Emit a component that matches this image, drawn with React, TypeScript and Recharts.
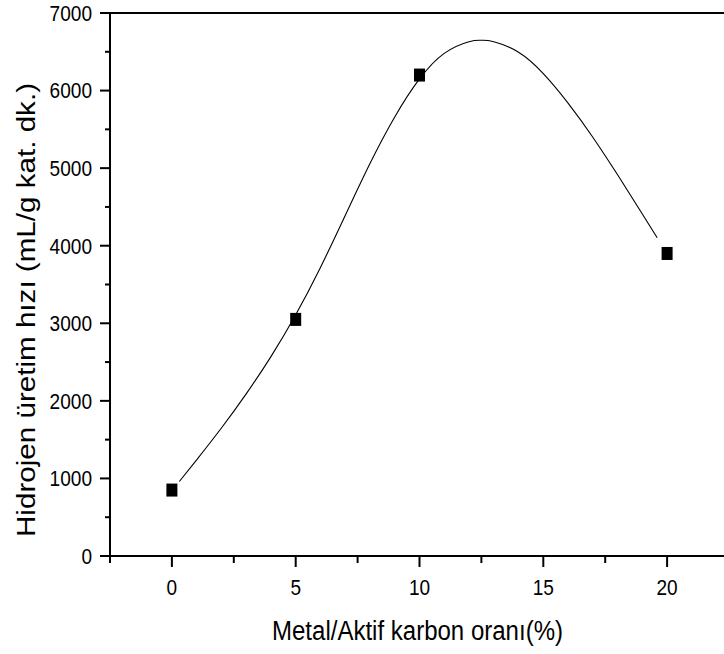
import { ComposedChart, Line, Scatter, XAxis, YAxis } from 'recharts'

// measured points (square markers)
const pointX = [0, 5, 10, 20]
const pointY = [850, 3050, 6200, 3900]

// smooth fitted curve
const curveX = [0.3, 1, 2, 3, 4, 5, 6, 7, 8, 9, 10, 11, 12, 12.5, 13, 14, 15, 16, 17, 18, 19, 19.6]
const curveY = [960, 1240, 1650, 2090, 2570, 3110, 3720, 4390, 5060, 5660, 6150, 6480, 6630, 6648, 6630, 6494, 6219, 5839, 5399, 4914, 4409, 4103]

const xTicks = [-2.5, 0, 2.5, 5, 7.5, 10, 12.5, 15, 17.5, 20, 22.5]
const xMajor = [0, 5, 10, 15, 20]
const topMajor = [-2.5, 2.5, 7.5, 12.5, 17.5, 22.5]
const yTicks = [0, 500, 1000, 1500, 2000, 2500, 3000, 3500, 4000, 4500, 5000, 5500, 6000, 6500, 7000]
const yMajor = [0, 1000, 2000, 3000, 4000, 5000, 6000, 7000]
const rightTicks = [0, 0.5, 1, 1.5, 2, 2.5, 3, 3.5, 4, 4.5, 5]

const xTitle = 'Metal/Aktif karbon oranı(%)'
const yTitle = 'Hidrojen üretim hızı (mL/g kat. dk.)'

const points = pointX.map((x, i) => ({ x, y: pointY[i] }))
const curve = curveX.map((x, i) => ({ x, y: curveY[i] }))

const FONT = '"Liberation Sans", Arial, sans-serif'

const tickText = (s: string) => ({
  fontFamily: FONT,
  fontSize: 22,
  fill: '#000',
  textLength: s.length * 10.6,
  lengthAdjust: 'spacingAndGlyphs' as const,
})

const BottomTick = ({ x, y, payload }: any) => {
  const major = xMajor.includes(payload.value)
  const s = String(payload.value)
  return (
    <g>
      <line x1={x} x2={x} y1={y} y2={y + (major ? 11 : 7)} stroke="#000" strokeWidth={2} />
      {major && (
        <text x={x} y={y + 39} textAnchor="middle" {...tickText(s)}>
          {s}
        </text>
      )}
    </g>
  )
}

const TopTick = ({ x, y, payload }: any) => {
  const major = topMajor.includes(payload.value)
  return <line x1={x} x2={x} y1={y} y2={y + (major ? 12 : 7)} stroke="#000" strokeWidth={2} />
}

const LeftTick = ({ x, y, payload }: any) => {
  const major = yMajor.includes(payload.value)
  const s = String(payload.value)
  return (
    <g>
      <line x1={x} x2={x - (major ? 10 : 5)} y1={y} y2={y} stroke="#000" strokeWidth={2} />
      {major && (
        <text x={x - 18} y={y} dy="0.36em" textAnchor="end" {...tickText(s)}>
          {s}
        </text>
      )}
    </g>
  )
}

const RightTick = ({ x, y, payload }: any) => {
  const major = Number.isInteger(payload.value)
  return <line x1={x} x2={x - (major ? 12 : 7)} y1={y} y2={y} stroke="#000" strokeWidth={2} />
}

const Marker = ({ cx, cy }: any) => <rect x={cx - 5.5} y={cy - 6.5} width={11} height={13} fill="#000" />

const axisLine = { stroke: '#000', strokeWidth: 2 }

export default function App() {
  return (
    <div style={{ position: 'absolute', left: 0, top: 0, width: 724, height: 654, overflow: 'hidden', background: '#fff' }}>
      <ComposedChart width={740} height={654} margin={{ top: 0, right: 0, bottom: 0, left: 0 }}>
        <XAxis
          dataKey="x"
          type="number"
          domain={[-2.5, 22.5]}
          ticks={xTicks}
          interval={0}
          height={98}
          tickSize={0}
          tickMargin={0}
          tickLine={false}
          axisLine={axisLine}
          tick={BottomTick}
        />
        <XAxis
          xAxisId="top"
          orientation="top"
          type="number"
          domain={[-2.5, 22.5]}
          ticks={xTicks}
          interval={0}
          height={13}
          tickSize={0}
          tickMargin={0}
          tickLine={false}
          axisLine={axisLine}
          tick={TopTick}
        />
        <YAxis
          type="number"
          domain={[0, 7000]}
          ticks={yTicks}
          interval={0}
          width={110}
          tickSize={0}
          tickMargin={0}
          tickLine={false}
          axisLine={axisLine}
          tick={LeftTick}
        />
        <YAxis
          yAxisId="right"
          orientation="right"
          type="number"
          domain={[0, 5]}
          ticks={rightTicks}
          interval={0}
          width={11}
          tickSize={0}
          tickMargin={0}
          tickLine={false}
          axisLine={axisLine}
          tick={RightTick}
        />
        <Line
          data={curve}
          dataKey="y"
          type="natural"
          stroke="#000"
          strokeWidth={1.1}
          dot={false}
          activeDot={false}
          isAnimationActive={false}
        />
        <Scatter data={points} dataKey="y" shape={Marker} isAnimationActive={false} />
        <text
          x={417.5}
          y={640}
          textAnchor="middle"
          fontFamily={FONT}
          fontSize={27}
          fill="#000"
          textLength={291}
          lengthAdjust="spacingAndGlyphs"
        >
          {xTitle}
        </text>
        <text
          x={35}
          y={310}
          textAnchor="middle"
          transform="rotate(-90, 35, 310)"
          fontFamily={FONT}
          fontSize={25}
          fill="#000"
          textLength={454}
          lengthAdjust="spacingAndGlyphs"
        >
          {yTitle}
        </text>
      </ComposedChart>
    </div>
  )
}
